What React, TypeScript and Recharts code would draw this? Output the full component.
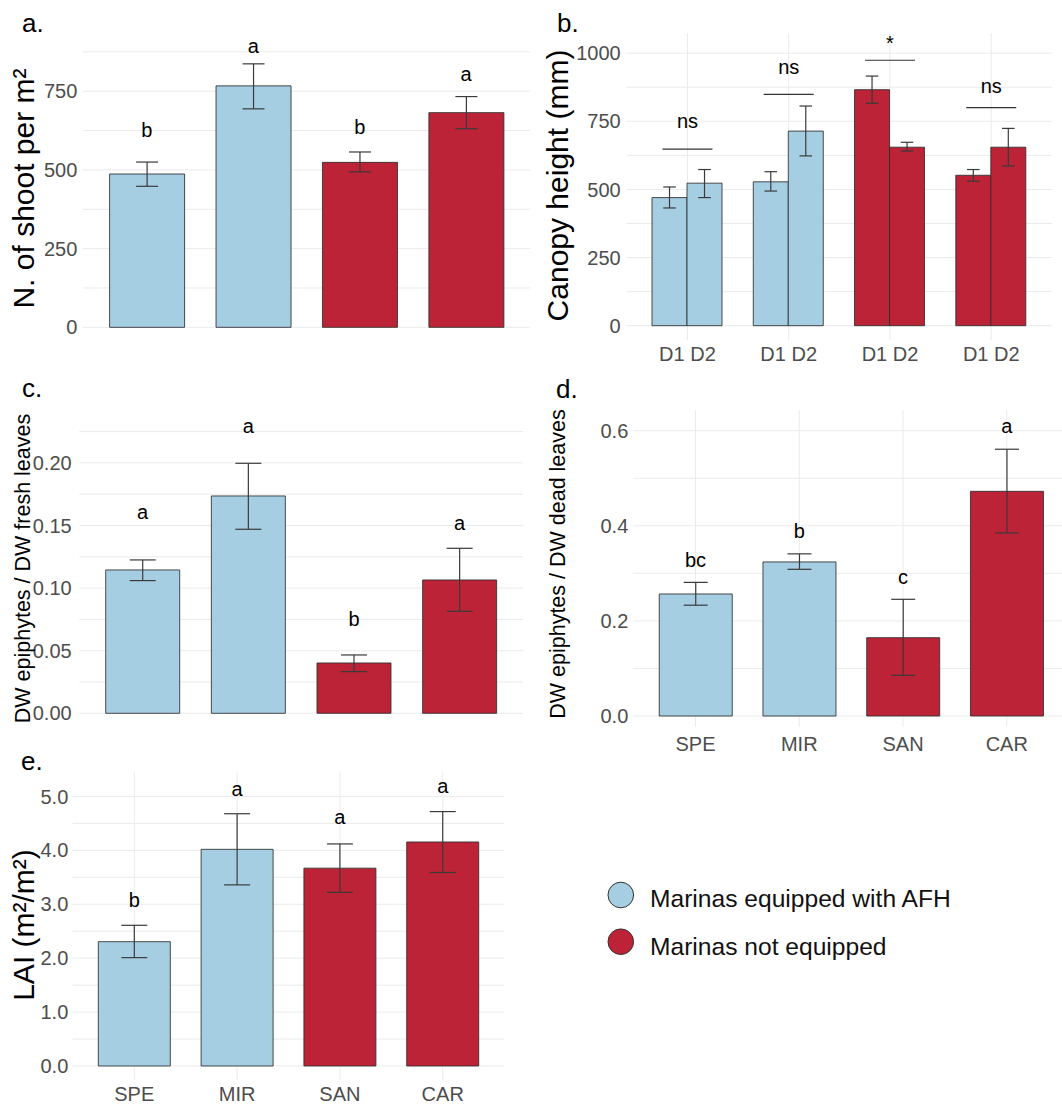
import React from 'react';
import { ComposedChart, Bar, Line, XAxis, YAxis, CartesianGrid, ErrorBar, Cell } from 'recharts';

const FONT = '"Liberation Sans", Arial, Helvetica, sans-serif';
const BLUE = '#a6cee3';
const RED = '#bc2337';
const TICK_COLOR = '#4d4d4d';
const GRID = '#ebebeb';

// ---------- shared categories ----------
const sites = ['SPE', 'MIR', 'SAN', 'CAR'];
const siteGroup = ['equipped', 'equipped', 'not', 'not'];
const groupColor: Record<string, string> = { equipped: BLUE, not: RED };
const legendLabels = ['Marinas equipped with AFH', 'Marinas not equipped'];
const legendGroups = ['equipped', 'not'];

// ---------- a. shoot density ----------
const shootMean = [487, 767, 524, 682];
const shootLow = [448, 694, 494, 631];
const shootHigh = [525, 837, 557, 733];
const shootLetter = ['b', 'a', 'b', 'a'];
const shootLetterY = [604, 872, 613, 782];
const shootMajor = [0, 250, 500, 750];
const shootMinor = [125, 375, 625, 875];

// ---------- b. canopy height ----------
const canopyD1 = [470, 528, 866, 552];
const canopyD1Low = [432, 494, 816, 530];
const canopyD1High = [509, 565, 916, 573];
const canopyD2 = [523, 714, 655, 655];
const canopyD2Low = [470, 623, 641, 586];
const canopyD2High = [573, 806, 673, 724];
const canopySig = ['ns', 'ns', '*', 'ns'];
const canopySigLineY = [648, 849, 974, 800];
const canopySigTextY = [724, 924, 1013, 855];
const canopyTickLabels = ['D1 D2', 'D1 D2', 'D1 D2', 'D1 D2'];
const canopyMajor = [0, 250, 500, 750, 1000];
const canopyMinor = [125, 375, 625, 875];

// ---------- c. epiphytes / fresh leaves ----------
const freshMean = [0.1145, 0.1736, 0.0402, 0.1065];
const freshLow = [0.106, 0.147, 0.0333, 0.0815];
const freshHigh = [0.1225, 0.1997, 0.0466, 0.1318];
const freshLetter = ['a', 'a', 'b', 'a'];
const freshLetterY = [0.155, 0.2236, 0.07, 0.1464];
const freshMajor = [0, 0.05, 0.1, 0.15, 0.2];
const freshMinor = [0.025, 0.075, 0.125, 0.175, 0.225];

// ---------- d. epiphytes / dead leaves ----------
const deadMean = [0.2566, 0.324, 0.1647, 0.4725];
const deadLow = [0.233, 0.3085, 0.0855, 0.385];
const deadHigh = [0.281, 0.341, 0.2454, 0.561];
const deadLetter = ['bc', 'b', 'c', 'a'];
const deadLetterY = [0.314, 0.3737, 0.2776, 0.5945];
const deadMajor = [0, 0.2, 0.4, 0.6];
const deadMinor = [0.1, 0.3, 0.5];

// ---------- e. LAI ----------
const laiMean = [2.306, 4.02, 3.67, 4.156];
const laiLow = [2.01, 3.36, 3.22, 3.59];
const laiHigh = [2.61, 4.68, 4.12, 4.72];
const laiLetter = ['b', 'a', 'a', 'a'];
const laiLetterY = [2.955, 5.015, 4.484, 5.06];
const laiMajor = [0, 1, 2, 3, 4, 5];
const laiMinor = [0.5, 1.5, 2.5, 3.5, 4.5];

type Row = { site: string; mean: number; err: [number, number]; letter: string; letterY: number; color: string };

const buildRows = (mean: number[], low: number[], high: number[], letter: string[], letterY: number[]): Row[] =>
  sites.map((s, i) => ({
    site: s,
    mean: mean[i],
    err: [mean[i] - low[i], high[i] - mean[i]],
    letter: letter[i],
    letterY: letterY[i],
    color: groupColor[siteGroup[i]],
  }));

const renderLetter = (props: any) => {
  const { cx, cy, payload, index } = props;
  if (cx == null || cy == null) return <g key={`lt${index}`} />;
  return (
    <text key={`lt${index}`} x={cx} y={cy} textAnchor="middle" fontSize={20} fontFamily={FONT} fill="#000">
      {payload.letter}
    </text>
  );
};

const tickStyle = { fontSize: 20, fill: TICK_COLOR, fontFamily: FONT };

type PanelProps = {
  rows: Row[];
  left: number;
  top: number;
  width: number;
  height: number;
  margin: { top: number; right: number; bottom: number; left: number };
  yWidth: number;
  domain: [number, number];
  major: number[];
  minor: number[];
  digits: number;
  yTickMargin: number;
  showX: boolean;
  xHeight: number;
  xTickMargin: number;
  capHalf: number;
};

function SitePanel(p: PanelProps) {
  const plotW = p.width - p.margin.left - p.margin.right - p.yWidth;
  const pad = plotW / 42;
  const ticks = [...p.major, ...p.minor].sort((a, b) => a - b);
  const fmt = (v: number) => (p.major.includes(v) ? v.toFixed(p.digits) : '');
  return (
    <div style={{ position: 'absolute', left: p.left, top: p.top }}>
      <ComposedChart width={p.width} height={p.height} data={p.rows} margin={p.margin} barCategoryGap="15%">
        <CartesianGrid stroke={GRID} strokeWidth={1} syncWithTicks />
        <XAxis
          dataKey="site"
          axisLine={false}
          tickLine={false}
          tickSize={0}
          tickMargin={p.xTickMargin}
          height={p.xHeight}
          tick={p.showX ? tickStyle : false}
          padding={{ left: pad, right: pad }}
          interval={0}
        />
        <YAxis
          type="number"
          domain={p.domain}
          allowDataOverflow
          ticks={ticks}
          tickFormatter={fmt}
          width={p.yWidth}
          axisLine={false}
          tickLine={false}
          tickSize={0}
          tickMargin={p.yTickMargin}
          tick={tickStyle}
          interval={0}
        />
        <Bar dataKey="mean" isAnimationActive={false} stroke="#2e2e2e" strokeOpacity={0.85} strokeWidth={1}>
          {p.rows.map((r) => (
            <Cell key={r.site} fill={r.color} />
          ))}
          <ErrorBar dataKey="err" width={p.capHalf} stroke="#3a3a3a" strokeWidth={1.2} />
        </Bar>
        <Line dataKey="letterY" stroke="none" isAnimationActive={false} dot={renderLetter} activeDot={false} legendType="none" />
      </ComposedChart>
    </div>
  );
}

const canopyRows = sites.map((s, i) => ({
  site: s,
  label: canopyTickLabels[i],
  d1: canopyD1[i],
  d1Err: [canopyD1[i] - canopyD1Low[i], canopyD1High[i] - canopyD1[i]],
  d2: canopyD2[i],
  d2Err: [canopyD2[i] - canopyD2Low[i], canopyD2High[i] - canopyD2[i]],
  sig: canopySig[i],
  sigLineY: canopySigLineY[i],
  sigTextY: canopySigTextY[i],
  color: groupColor[siteGroup[i]],
}));

const renderSigLine = (props: any) => {
  const { cx, cy, index } = props;
  if (cx == null || cy == null) return <g key={`sl${index}`} />;
  return <line key={`sl${index}`} x1={cx - 25} x2={cx + 25} y1={cy} y2={cy} stroke="#333" strokeWidth={1.2} />;
};

const renderSigText = (props: any) => {
  const { cx, cy, payload, index } = props;
  if (cx == null || cy == null) return <g key={`st${index}`} />;
  return (
    <text key={`st${index}`} x={cx} y={cy} textAnchor="middle" fontSize={20} fontFamily={FONT} fill="#000">
      {payload.sig}
    </text>
  );
};

function CanopyPanel() {
  const width = 542;
  const height = 370;
  const margin = { top: 33, right: 10, bottom: 0, left: 0 };
  const yWidth = 106.7;
  const plotW = width - margin.left - margin.right - yWidth;
  const pad = plotW / 42;
  const ticks = [...canopyMajor, ...canopyMinor].sort((a, b) => a - b);
  const fmt = (v: number) => (canopyMajor.includes(v) ? String(v) : '');
  const labelFor = (v: string) => {
    const idx = sites.indexOf(v);
    return idx >= 0 ? canopyTickLabels[idx] : v;
  };
  return (
    <div style={{ position: 'absolute', left: 520, top: 0 }}>
      <ComposedChart width={width} height={height} data={canopyRows} margin={margin} barCategoryGap="15%" barGap={0}>
        <CartesianGrid stroke={GRID} strokeWidth={1} syncWithTicks />
        <XAxis
          dataKey="site"
          axisLine={false}
          tickLine={false}
          tickSize={0}
          tickMargin={6.7}
          height={30}
          tick={tickStyle}
          tickFormatter={labelFor}
          padding={{ left: pad, right: pad }}
          interval={0}
        />
        <YAxis
          type="number"
          domain={[-52.5, 1074]}
          allowDataOverflow
          ticks={ticks}
          tickFormatter={fmt}
          width={yWidth}
          axisLine={false}
          tickLine={false}
          tickSize={0}
          tickMargin={6}
          tick={tickStyle}
          interval={0}
        />
        <Bar dataKey="d1" isAnimationActive={false} stroke="#2e2e2e" strokeOpacity={0.85} strokeWidth={1}>
          {canopyRows.map((r) => (
            <Cell key={r.site} fill={r.color} />
          ))}
          <ErrorBar dataKey="d1Err" width={6.3} stroke="#3a3a3a" strokeWidth={1.2} />
        </Bar>
        <Bar dataKey="d2" isAnimationActive={false} stroke="#2e2e2e" strokeOpacity={0.85} strokeWidth={1}>
          {canopyRows.map((r) => (
            <Cell key={r.site} fill={r.color} />
          ))}
          <ErrorBar dataKey="d2Err" width={6.3} stroke="#3a3a3a" strokeWidth={1.2} />
        </Bar>
        <Line dataKey="sigLineY" stroke="none" isAnimationActive={false} dot={renderSigLine} activeDot={false} legendType="none" />
        <Line dataKey="sigTextY" stroke="none" isAnimationActive={false} dot={renderSigText} activeDot={false} legendType="none" />
      </ComposedChart>
    </div>
  );
}

const YTitle = ({ x, y, size, text }: { x: number; y: number; size: number; text: string }) => (
  <text x={x} y={y} transform={`rotate(-90 ${x} ${y})`} textAnchor="middle" fontSize={size} fontFamily={FONT} fill="#000">
    {text}
  </text>
);

const PanelTag = ({ x, y, text }: { x: number; y: number; text: string }) => (
  <text x={x} y={y} fontSize={26} fontFamily={FONT} fill="#000">
    {text}
  </text>
);

export default function App() {
  const shootRows = buildRows(shootMean, shootLow, shootHigh, shootLetter, shootLetterY);
  const freshRows = buildRows(freshMean, freshLow, freshHigh, freshLetter, freshLetterY);
  const deadRows = buildRows(deadMean, deadLow, deadHigh, deadLetter, deadLetterY);
  const laiRows = buildRows(laiMean, laiLow, laiHigh, laiLetter, laiLetterY);

  return (
    <div
      style={{
        position: 'absolute',
        left: 0,
        top: 0,
        width: 1062,
        height: 1104,
        overflow: 'hidden',
        background: '#fff',
        fontFamily: FONT,
      }}
    >
      <SitePanel
        rows={shootRows}
        left={0}
        top={0}
        width={540}
        height={360}
        margin={{ top: 30, right: 10, bottom: 18.3, left: 0 }}
        yWidth={83}
        domain={[-45.7, 944.5]}
        major={shootMajor}
        minor={shootMinor}
        digits={0}
        yTickMargin={5.7}
        showX={false}
        xHeight={0}
        xTickMargin={0}
        capHalf={11}
      />
      <CanopyPanel />
      <SitePanel
        rows={freshRows}
        left={0}
        top={360}
        width={540}
        height={370}
        margin={{ top: 51.7, right: 17, bottom: 3.3, left: 0 }}
        yWidth={79.3}
        domain={[-0.0107, 0.2409]}
        major={freshMajor}
        minor={freshMinor}
        digits={2}
        yTickMargin={7.6}
        showX={false}
        xHeight={0}
        xTickMargin={0}
        capHalf={13}
      />
      <SitePanel
        rows={deadRows}
        left={530}
        top={360}
        width={545}
        height={400}
        margin={{ top: 50, right: 6, bottom: 3.3, left: 0 }}
        yWidth={103.3}
        domain={[-0.0225, 0.6435]}
        major={deadMajor}
        minor={deadMinor}
        digits={1}
        yTickMargin={5}
        showX={true}
        xHeight={30}
        xTickMargin={10}
        capHalf={12}
      />
      <SitePanel
        rows={laiRows}
        left={0}
        top={740}
        width={520}
        height={364}
        margin={{ top: 31.7, right: 15.6, bottom: 0, left: 0 }}
        yWidth={72.6}
        domain={[-0.26, 5.46]}
        major={laiMajor}
        minor={laiMinor}
        digits={1}
        yTickMargin={4.3}
        showX={true}
        xHeight={24}
        xTickMargin={6.7}
        capHalf={13}
      />
      <svg
        width={1062}
        height={1104}
        style={{ position: 'absolute', left: 0, top: 0, pointerEvents: 'none' }}
      >
        <PanelTag x={22} y={32} text="a." />
        <PanelTag x={557} y={32} text="b." />
        <PanelTag x={22} y={397} text="c." />
        <PanelTag x={556} y={398} text="d." />
        <PanelTag x={21} y={770} text="e." />
        <YTitle x={33.5} y={188.5} size={30} text="N. of shoot per m²" />
        <YTitle x={568} y={185.5} size={30} text="Canopy height (mm)" />
        <YTitle x={30} y={568.5} size={21.5} text="DW epiphytes / DW fresh leaves" />
        <YTitle x={565} y={564} size={21.5} text="DW epiphytes / DW dead leaves" />
        <YTitle x={33.5} y={925} size={30} text="LAI (m²/m²)" />
        {legendLabels.map((lab, i) => (
          <g key={lab}>
            <circle cx={620.8} cy={895 + i * 46.7} r={12.8} fill={groupColor[legendGroups[i]]} stroke="#333" strokeWidth={1} />
            <text x={650} y={906.7 + i * 48.3} fontSize={24.6} fontFamily={FONT} fill="#111">
              {lab}
            </text>
          </g>
        ))}
      </svg>
    </div>
  );
}
